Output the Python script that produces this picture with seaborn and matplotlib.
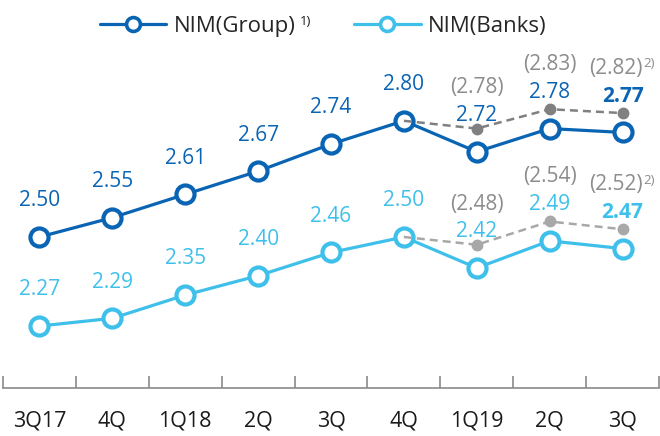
import matplotlib
matplotlib.use("Agg")
import matplotlib.pyplot as plt
from matplotlib.lines import Line2D
import seaborn as sns
import numpy as np
import pandas as pd

# ---- data ----
quarters = ["3Q17", "4Q", "1Q18", "2Q", "3Q", "4Q", "1Q19", "2Q", "3Q"]
nim_group = [2.50, 2.55, 2.61, 2.67, 2.74, 2.80, 2.72, 2.78, 2.77]
nim_banks = [2.27, 2.29, 2.35, 2.40, 2.46, 2.50, 2.42, 2.49, 2.47]
adj_group = [None, None, None, None, None, 2.80, 2.78, 2.83, 2.82]
adj_banks = [None, None, None, None, None, 2.50, 2.48, 2.54, 2.52]

C_GROUP = "#0a64b4"
C_BANKS = "#3ec0ea"
C_ADJ_G = "#808080"
C_ADJ_B = "#a8a8a8"
C_PAREN = "#8c8c8c"
FONT = "Open Sans"

sns.set_theme(style="white")
plt.rcParams["font.family"] = [FONT, "DejaVu Sans"]

x = np.arange(len(quarters))
df = pd.DataFrame({"x": x, "group": nim_group, "banks": nim_banks,
                   "adj_g": pd.to_numeric(pd.Series(adj_group), errors="coerce"),
                   "adj_b": pd.to_numeric(pd.Series(adj_banks), errors="coerce")})

fig = plt.figure(figsize=(6.6, 4.36), dpi=100)
ax = fig.add_axes([3/660, 48/436, 656/660, 388/436])

main_kw = dict(marker="o", markersize=13, markeredgewidth=3.0,
               markerfacecolor="white", linewidth=2.3)
sns.lineplot(data=df, x="x", y="group", ax=ax, color=C_GROUP,
             markeredgecolor=C_GROUP, zorder=3, **main_kw)
sns.lineplot(data=df, x="x", y="banks", ax=ax, color=C_BANKS,
             markeredgecolor=C_BANKS, zorder=3, **main_kw)

# adjusted (dashed) series
for col, c in (("adj_g", C_ADJ_G), ("adj_b", C_ADJ_B)):
    sub = df.dropna(subset=[col])
    ax.plot(sub["x"], sub[col], linestyle=(0, (3.2, 2.0)), color=c,
            linewidth=1.8, zorder=4)
    ax.plot(sub["x"].iloc[1:], sub[col].iloc[1:], linestyle="none",
            marker="o", markersize=7.5, color=c, zorder=5)

# value labels
FS = 15
n = len(quarters)
paren_last = []
for i in range(n):
    bold = "bold" if i == n - 1 else "normal"
    ax.annotate(f"{nim_group[i]:.2f}", (x[i], nim_group[i]), xytext=(0, 26),
                textcoords="offset points", ha="center", va="center",
                fontsize=FS, color=C_GROUP, fontweight=bold)
    ax.annotate(f"{nim_banks[i]:.2f}", (x[i], nim_banks[i]), xytext=(0, 26),
                textcoords="offset points", ha="center", va="center",
                fontsize=FS, color=C_BANKS, fontweight=bold)
    for vals, base in ((adj_group, nim_group), (adj_banks, nim_banks)):
        if vals[i] is not None and i > 5:
            dx = -5 if i == n - 1 else 0
            t = ax.annotate(f"({vals[i]:.2f})", (x[i], base[i]), xytext=(dx, 46),
                            textcoords="offset points", ha="center", va="center",
                            fontsize=FS, color=C_PAREN)
            if i == n - 1:
                paren_last.append(t)

# axes styling
ax.set_xlim(-0.5, n - 0.5)
ax.set_ylim(2.11, 3.112)
ax.set_xticks(np.arange(-0.5, n, 1.0), minor=False)
ax.set_xticklabels([])
ax.set_xticks(x, minor=True)
ax.set_xticklabels(quarters, minor=True, fontsize=15.5, color="#1a1a1a")
ax.tick_params(axis="x", which="major", direction="in", length=9,
               width=1.2, color="#8a8a8a", bottom=True)
ax.tick_params(axis="x", which="minor", length=0, pad=16)
ax.set_yticks([])
ax.set_xlabel("")
ax.set_ylabel("")
for s in ("top", "right", "left"):
    ax.spines[s].set_visible(False)
ax.spines["bottom"].set_color("#8a8a8a")
ax.spines["bottom"].set_linewidth(1.2)
ax.patch.set_alpha(0)

# legend
handles = [
    Line2D([], [], color=C_GROUP, marker="o", markersize=10, markeredgewidth=2.6,
           markerfacecolor="white", markeredgecolor=C_GROUP, linewidth=2.3),
    Line2D([], [], color=C_BANKS, marker="o", markersize=10, markeredgewidth=2.6,
           markerfacecolor="white", markeredgecolor=C_BANKS, linewidth=2.3),
]
leg = fig.legend(handles, ["NIM(Group)", "NIM(Banks)"], loc="upper center",
                 bbox_to_anchor=(0.49, 1.01), ncol=2, frameon=False,
                 fontsize=16, handlelength=3.0, handletextpad=0.35,
                 columnspacing=2.6)

fig.canvas.draw()
r = fig.canvas.get_renderer()
W, H = fig.bbox.width, fig.bbox.height

# superscript "1)" after "NIM(Group)"
bb = leg.get_texts()[0].get_window_extent(renderer=r)
fig.text((bb.x1 + 4) / W, (bb.y0 + bb.height * 0.70) / H, "1)",
         fontsize=9.5, color="#1a1a1a", va="center", ha="left")

# superscript "2)" after the last bracketed values
for t in paren_last:
    tb = t.get_window_extent(renderer=r)
    fig.text((tb.x1 + 1) / W, (tb.y0 + tb.height * 0.72) / H, "2)",
             fontsize=9.5, color=C_PAREN, va="center", ha="left")

fig.savefig("out.png", dpi=100)
